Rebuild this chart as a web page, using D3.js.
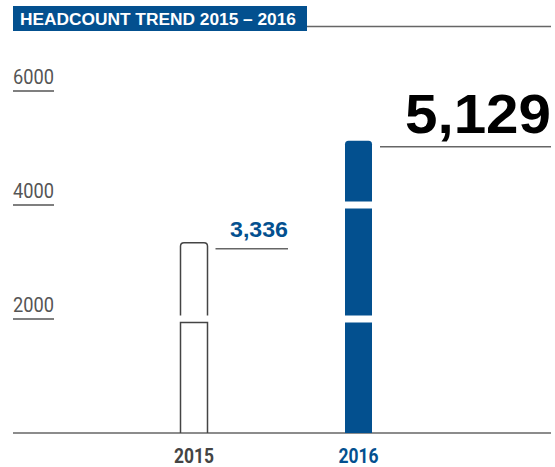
<!DOCTYPE html>
<html>
<head>
<meta charset="utf-8">
<script src="https://cdn.jsdelivr.net/npm/d3@7"></script>
<style>
	html, body { margin: 0; padding: 0; background: #fff; }
	svg { display: block; }
</style>
</head>
<body>
<svg id="chart"></svg>
<script>
const WIDTH = 555
const HEIGHT = 467
const BLUE = '#03508f'
const GREY = '#555'

const title = 'HEADCOUNT TREND 2015 – 2016'
const years = ['2015', '2016']
const headcount = [3336, 5129]
const tickValues = [2000, 4000, 6000]

const svg = d3.select('#chart')
	.attr('width', WIDTH)
	.attr('height', HEIGHT)

const y = d3.scaleLinear()
	.domain([0, 6000])
	.range([433, 91])

const x = d3.scalePoint()
	.domain(years)
	.range([194, 358.5])

const barW = 27
const gap = 7
const fmt = d3.format(',')

// title block
svg.append('rect')
	.attr('x', 13).attr('y', 6)
	.attr('width', 294).attr('height', 25)
	.attr('fill', BLUE)

svg.append('text')
	.attr('x', 20).attr('y', 24.5)
	.attr('fill', '#fff')
	.style('font-family', 'Liberation Sans, Arial, sans-serif')
	.style('font-weight', 'bold')
	.style('font-size', '16px')
	.attr('textLength', 276)
	.attr('lengthAdjust', 'spacingAndGlyphs')
	.text(title)

svg.append('line')
	.attr('x1', 307).attr('x2', 551)
	.attr('y1', 26.5).attr('y2', 26.5)
	.attr('stroke', '#666')
	.attr('stroke-width', 1.5)

// y ticks: label with underline
const tick = svg.selectAll('.tick').data(tickValues)
	.enter().append('g')
	.attr('class', 'tick')
	.attr('transform', d => `translate(0, ${y(d)})`)

tick.append('text')
	.attr('x', 13).attr('y', -7)
	.attr('fill', GREY)
	.style('font-family', 'Roboto, sans-serif')
	.style('font-size', '21px')
	.attr('textLength', 41)
	.attr('lengthAdjust', 'spacingAndGlyphs')
	.text(d => d)

tick.append('line')
	.attr('x1', 13).attr('x2', 54)
	.attr('stroke', GREY)
	.attr('stroke-width', 1.5)

// baseline
svg.append('line')
	.attr('x1', 13).attr('x2', 551)
	.attr('y1', y(0)).attr('y2', y(0))
	.attr('stroke', '#666')
	.attr('stroke-width', 1.5)

// split each bar into segments at the tick values
function segments(v) {
	const cuts = [0].concat(tickValues.filter(t => t < v), [v])
	return d3.pairs(cuts).map(([a, b], i, arr) => ({
		y0: y(a) - (a > 0 ? gap / 2 : 0),
		y1: y(b) + (b < v ? gap / 2 : 0),
		top: i === arr.length - 1,
	}))
}

function segPath(x0, s, r) {
	const x1 = x0 + barW
	if (!s.top) {
		return `M${x0},${s.y0}V${s.y1}H${x1}V${s.y0}`
	}
	return `M${x0},${s.y0}V${s.y1 + r}Q${x0},${s.y1} ${x0 + r},${s.y1}` +
		`H${x1 - r}Q${x1},${s.y1} ${x1},${s.y1 + r}V${s.y0}`
}

const bar = svg.selectAll('.bar').data(years)
	.enter().append('g')
	.attr('class', 'bar')

bar.each(function(d, i) {
	const g = d3.select(this)
	const x0 = x(d) - barW / 2
	const filled = i === 1
	segments(headcount[i]).forEach(s => {
		g.append('path')
			.attr('d', segPath(x0, s, 3.5) + (filled ? 'Z' : ''))
			.attr('fill', filled ? BLUE : 'none')
			.attr('stroke', filled ? 'none' : '#444')
			.attr('stroke-width', 1.5)
	})
})

// value labels with leader lines
const labelEnd = [288, 551]
const labelSize = [22, 56]
const labelWidth = [58, 146]
const labelColor = [BLUE, '#000']

years.forEach((d, i) => {
	const top = y(headcount[i])
	const x1 = x(d) + barW / 2 + 8
	svg.append('line')
		.attr('x1', x1).attr('x2', labelEnd[i])
		.attr('y1', top + 6).attr('y2', top + 6)
		.attr('stroke', '#666')
		.attr('stroke-width', 1.5)
	svg.append('text')
		.attr('x', labelEnd[i] - labelWidth[i])
		.attr('y', top - (i ? 8 : 6))
		.attr('fill', labelColor[i])
		.style('font-family', 'Liberation Sans, Arial, sans-serif')
		.style('font-weight', 'bold')
		.style('font-size', `${labelSize[i]}px`)
		.attr('textLength', labelWidth[i])
		.attr('lengthAdjust', 'spacingAndGlyphs')
		.text(fmt(headcount[i]))
})

// x labels
svg.selectAll('.year').data(years)
	.enter().append('text')
	.attr('class', 'year')
	.attr('x', d => x(d) - 20)
	.attr('y', 463)
	.attr('fill', (d, i) => i ? BLUE : '#444')
	.style('font-family', 'Roboto, sans-serif')
	.style('font-weight', 'bold')
	.style('font-size', '20px')
	.attr('textLength', 40)
	.attr('lengthAdjust', 'spacingAndGlyphs')
	.text(d => d)
</script>
</body>
</html>
